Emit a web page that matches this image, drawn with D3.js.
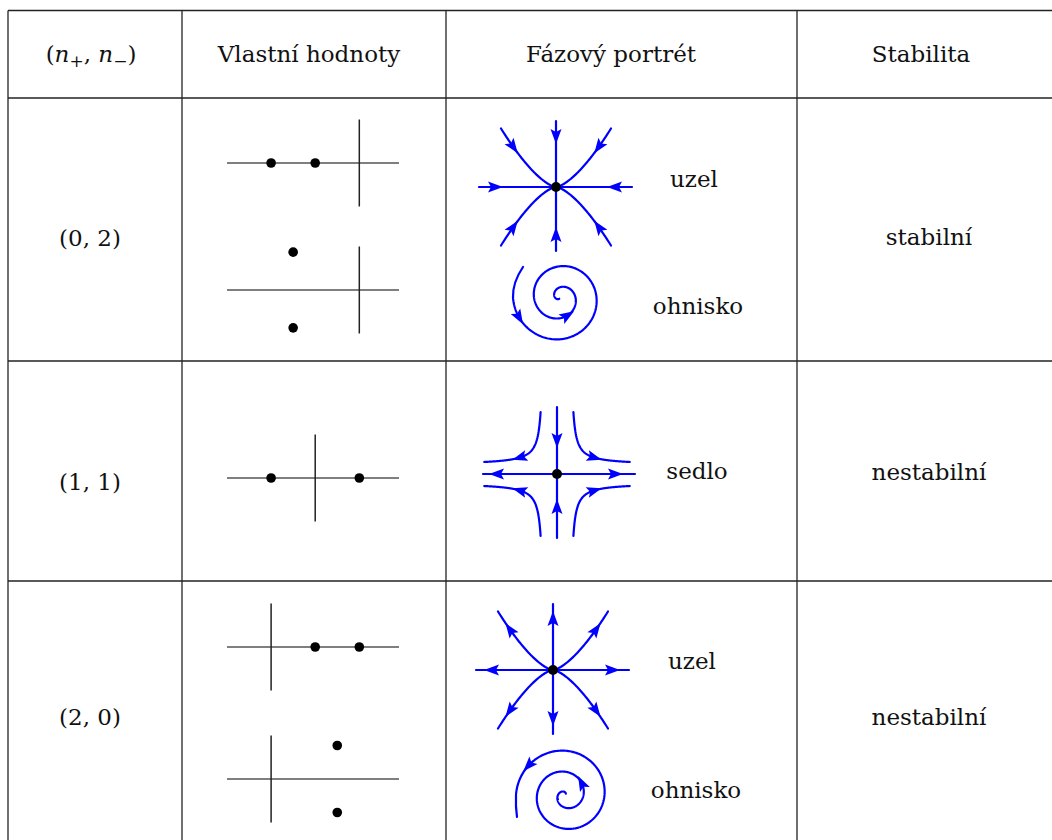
<!DOCTYPE html>
<html>
<head>
<meta charset="utf-8">
<script src="https://cdn.jsdelivr.net/npm/d3@7"></script>
<style>
body { margin: 0; background: #fff; }
text { font-family: "DejaVu Serif", serif; font-size: 23px; fill: #111; }
</style>
</head>
<body>
<div id="chart"></div>
<script>
// Table content
var headers = ["Vlastní hodnoty", "Fázový portrét", "Stabilita"];
var rowLabels = [[0, 2], [1, 1], [2, 0]];
var stability = ["stabilní", "nestabilní", "nestabilní"];

// Eigenvalues [re, im] of each small diagram, top to bottom
var eigenValues = [
    [[-2, 0], [-1, 0]],
    [[-1.5, 0.87], [-1.5, -0.87]],
    [[-1, 0], [1, 0]],
    [[1, 0], [2, 0]],
    [[1.5, 0.77], [1.5, -0.77]]
];
var realAxisMin = [-3, -3, -2, -1, -1];
var portraitNames = ["uzel", "ohnisko", "sedlo", "uzel", "ohnisko"];
var portraitKinds = ["node", "focus", "saddle", "node", "focus"];
var portraitFlow = [-1, -1, 0, 1, 1];   // -1 stable, +1 unstable

// Layout
var svgWidth = 1052;
var svgHeight = 840;
var colX = [8, 182, 446, 797];
var rowY = [10.5, 98, 361, 581];
var headerX = [91, 309, 611, 921];
var labelX = 90;
var labelBase = [246, 490, 725];
var stabX = 929;
var stabBase = [245, 480, 725];
var plotY = [163, 290, 478, 647, 779];
var plotX = [227, 399];
var portraitCenter = [[556, 187], [560, 297.5], [557, 474], [553, 670], [565.5, 795]];
var nameX = [694, 698, 697, 692, 696];
var nameBase = [187, 314, 479, 669, 798];

var blue = "#0000ff";
var arrowShape = "M8,0L-7,5.5L-4,0L-7,-5.5Z";

var svg = d3.select("#chart")
    .append("svg")
    .attr("width", svgWidth)
    .attr("height", svgHeight);

// Grid
svg.selectAll(".hline")
    .data(rowY)
    .enter()
    .append("line")
    .attr("x1", colX[0])
    .attr("x2", svgWidth)
    .attr("y1", d => d)
    .attr("y2", d => d)
    .attr("stroke", "#222")
    .attr("stroke-width", 1.3);

svg.selectAll(".vline")
    .data(colX)
    .enter()
    .append("line")
    .attr("x1", d => d)
    .attr("x2", d => d)
    .attr("y1", rowY[0])
    .attr("y2", svgHeight)
    .attr("stroke", "#222")
    .attr("stroke-width", 1.3);

// Header
var mathHead = svg.append("text")
    .attr("x", headerX[0])
    .attr("y", 62)
    .attr("font-size", 24)
    .attr("text-anchor", "middle");
mathHead.append("tspan").text("(");
mathHead.append("tspan").attr("font-style", "italic").text("n");
mathHead.append("tspan").attr("font-size", 17).attr("dy", 5).text("+");
mathHead.append("tspan").attr("dy", -5).text(", ");
mathHead.append("tspan").attr("font-style", "italic").text("n");
mathHead.append("tspan").attr("font-size", 17).attr("dy", 5).text("−");
mathHead.append("tspan").attr("dy", -5).text(")");

svg.selectAll(".head")
    .data(headers)
    .enter()
    .append("text")
    .attr("x", (d, i) => headerX[i + 1])
    .attr("y", 62)
    .attr("text-anchor", "middle")
    .text(d => d);

// Row labels and stability
svg.selectAll(".rowlabel")
    .data(rowLabels)
    .enter()
    .append("text")
    .attr("x", labelX)
    .attr("y", (d, i) => labelBase[i])
    .attr("text-anchor", "middle")
    .text(d => "(" + d[0] + ", " + d[1] + ")");

svg.selectAll(".stab")
    .data(stability)
    .enter()
    .append("text")
    .attr("x", stabX)
    .attr("y", (d, i) => stabBase[i])
    .attr("text-anchor", "middle")
    .text(d => d);

// Eigenvalue diagrams
eigenValues.forEach(function (vals, i) {
    var x = d3.scaleLinear()
        .domain([realAxisMin[i], realAxisMin[i] + 3.9])
        .range(plotX);
    var y = d3.scaleLinear()
        .domain([-1, 1])
        .range([plotY[i] + 43.5, plotY[i] - 43.5]);
    var g = svg.append("g");
    g.append("line")
        .attr("x1", x.range()[0]).attr("x2", x.range()[1])
        .attr("y1", y(0)).attr("y2", y(0))
        .attr("stroke", "#555").attr("stroke-width", 1.3);
    g.append("line")
        .attr("x1", x(0)).attr("x2", x(0))
        .attr("y1", y(-1)).attr("y2", y(1))
        .attr("stroke", "#222").attr("stroke-width", 1.5);
    g.selectAll("circle")
        .data(vals)
        .enter()
        .append("circle")
        .attr("cx", d => x(d[0]))
        .attr("cy", d => y(d[1]))
        .attr("r", 4.8)
        .attr("fill", "#000");
});

// Phase portraits
function arrowAt(g, p, ang) {
    g.append("path")
        .attr("d", arrowShape)
        .attr("transform", "translate(" + p[0] + "," + p[1] + ") rotate(" + ang + ")")
        .attr("fill", blue);
}

function angleOf(f, t, dt) {
    var a = f(t), b = f(t + dt);
    return Math.atan2(b[1] - a[1], b[0] - a[0]) * 180 / Math.PI;
}

function stroke(g, d) {
    return g.append("path")
        .attr("d", d)
        .attr("fill", "none")
        .attr("stroke", blue)
        .attr("stroke-width", 2.2)
        .attr("stroke-linecap", "round");
}

var line = d3.line();

function drawNode(g, flow) {
    stroke(g, "M-77,0H76M0,-66V64");
    var rev = flow < 0 ? 180 : 0;
    arrowAt(g, [-61, 0], 180 + rev);
    arrowAt(g, [59, 0], 0 + rev);
    arrowAt(g, [0, -51], -90 + rev);
    arrowAt(g, [0, 48], 90 + rev);
    [-1, 1].forEach(function (qx) {
        [-1, 1].forEach(function (qy) {
            var f = t => [qx * t * 55, qy * 58.5 * Math.pow(t, 1.5)];
            stroke(g, line(d3.range(0, 1.0001, 0.02).map(f)));
            arrowAt(g, f(0.78), angleOf(f, 0.78, 0.01) + rev);
        });
    });
    g.append("circle").attr("r", 5).attr("fill", "#000");
}

function drawSaddle(g) {
    stroke(g, "M-74,0H78M0,-67V64");
    arrowAt(g, [-60, 0], 180);
    arrowAt(g, [58, 0], 0);
    arrowAt(g, [0, -34], 90);
    arrowAt(g, [0, 33], -90);
    [-1, 1].forEach(function (qx) {
        [-1, 1].forEach(function (qy) {
            var f = u => [qx * (13 + u), qy * (9 + 180 / u)];
            stroke(g, line(d3.range(3.4, 60.01, 0.4).map(f)));
            arrowAt(g, f(24), angleOf(f, 24, 0.5));
        });
    });
    g.append("circle").attr("r", 5).attr("fill", "#000");
}

function drawFocus(g, flow) {
    var f, t0, t1, arrows;
    if (flow < 0) {
        f = function (t) {
            var r = 47 - 21 * (t - Math.PI) / (2 * Math.PI);
            return [r * Math.cos(t), -r * Math.sin(t)];
        };
        t0 = Math.PI;
        t1 = Math.PI + 2.17 * 2 * Math.PI;
        arrows = [3.59, 11.38];
        stroke(g, "M-37,-30.5Q-47.5,-15 -47,0");
    } else {
        f = function (t) {
            var r = 49.5 - 21 * (5 * Math.PI - t) / (2 * Math.PI);
            return [r * Math.cos(t), -r * Math.sin(t)];
        };
        t1 = 5 * Math.PI;
        t0 = t1 - 2.29 * 2 * Math.PI;
        arrows = [6.91, 15.03];
        stroke(g, "M-49.5,0Q-50,12 -48.5,22");
    }
    stroke(g, line(d3.range(t0, t1 + 0.0001, 0.03).map(f)));
    arrows.forEach(function (t) {
        arrowAt(g, f(t), angleOf(f, t, 0.01));
    });
}

portraitKinds.forEach(function (kind, i) {
    var g = svg.append("g")
        .attr("transform", "translate(" + portraitCenter[i][0] + "," + portraitCenter[i][1] + ")");
    if (kind === "node") drawNode(g, portraitFlow[i]);
    else if (kind === "saddle") drawSaddle(g);
    else drawFocus(g, portraitFlow[i]);
});

svg.selectAll(".pname")
    .data(portraitNames)
    .enter()
    .append("text")
    .attr("x", (d, i) => nameX[i])
    .attr("y", (d, i) => nameBase[i])
    .attr("text-anchor", "middle")
    .text(d => d);
</script>
</body>
</html>
